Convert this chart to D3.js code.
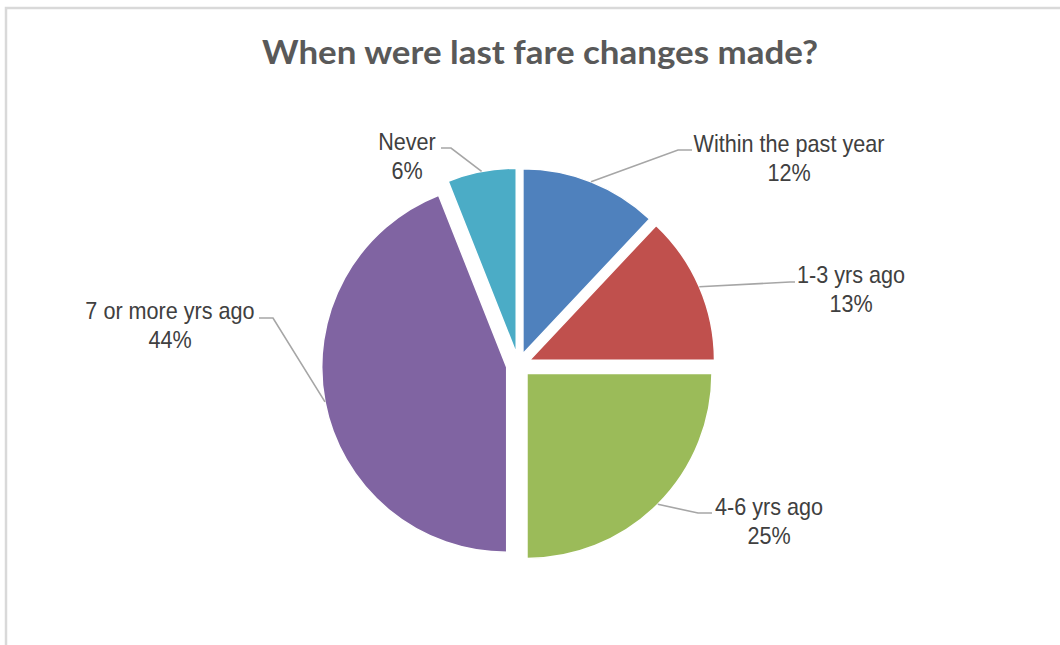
<!DOCTYPE html>
<html>
<head>
<meta charset="utf-8">
<script src="https://cdn.jsdelivr.net/npm/d3@7"></script>
<style>
  html, body { margin: 0; padding: 0; background: #fff; }
  svg { display: block; }
</style>
</head>
<body>
<svg id="chart" width="1060" height="645"></svg>
<script>
// Survey answers and their shares (percent)
const categories = ["Within the past year", "1-3 yrs ago", "4-6 yrs ago", "7 or more yrs ago", "Never"];
const shares = [12, 13, 25, 44, 6];
const sliceColors = ["#4f81bd", "#c0504d", "#9bbb59", "#8064a2", "#4bacc6"];
const chartTitle = "When were last fare changes made?";

// Label placement: text-block centre x, first baseline y, and the leader elbow / end points
const labelLayout = [
  { cx: 789, y: 152, elbow: [678, 150], end: [692, 150] },
  { cx: 851, y: 283, elbow: [790, 282], end: [795, 282] },
  { cx: 769, y: 515, elbow: [698, 513], end: [712, 513] },
  { cx: 170, y: 319, elbow: [273, 318], end: [259, 318] },
  { cx: 407, y: 150, elbow: [451, 148], end: [441, 148] }
];

const svg = d3.select("#chart");
const W = 1060, H = 645;

// chart-area frame (its right/bottom edges run off the page)
svg.append("rect")
  .attr("x", 6).attr("y", 8)
  .attr("width", W + 20).attr("height", H + 20)
  .attr("fill", "#fff")
  .attr("stroke", "#d9d9d9")
  .attr("stroke-width", 2.5);

// title
const title = svg.append("text")
  .attr("x", 540).attr("y", 64)
  .attr("text-anchor", "middle")
  .attr("font-family", "Lato, 'Open Sans', sans-serif")
  .attr("font-weight", "bold")
  .attr("font-size", 33)
  .attr("fill", "#595959")
  .text(chartTitle);
title.attr("textLength", 556).attr("lengthAdjust", "spacingAndGlyphs");

const cx = 518.5, cy = 365, R = 185, explode = 12;

const pie = d3.pie().sort(null).value(d => d.value);
const arc = d3.arc().innerRadius(0).outerRadius(R);

const data = categories.map((c, i) => ({ name: c, value: shares[i], color: sliceColors[i], layout: labelLayout[i] }));
const arcs = pie(data);

const g = svg.append("g").attr("transform", `translate(${cx},${cy})`);

function offsetOf(a) {
  const mid = (a.startAngle + a.endAngle) / 2;
  return [Math.sin(mid) * explode, -Math.cos(mid) * explode];
}

g.selectAll("path.slice")
  .data(arcs)
  .join("path")
  .attr("class", "slice")
  .attr("transform", d => { const o = offsetOf(d); return `translate(${o[0]},${o[1]})`; })
  .attr("d", arc)
  .attr("fill", d => d.data.color)
  .attr("stroke", "#fff")
  .attr("stroke-width", 1.5);

// leader lines: from the rim at the slice's mid-angle to the label
svg.selectAll("polyline.leader")
  .data(arcs)
  .join("polyline")
  .attr("class", "leader")
  .attr("fill", "none")
  .attr("stroke", "#a6a6a6")
  .attr("stroke-width", 1.6)
  .attr("points", d => {
    const mid = (d.startAngle + d.endAngle) / 2;
    const o = offsetOf(d);
    const px = cx + o[0] + Math.sin(mid) * R;
    const py = cy + o[1] - Math.cos(mid) * R;
    const L = d.data.layout;
    return [[px, py], L.elbow, L.end].map(p => p.join(",")).join(" ");
  });

// two-line data labels: category name and percentage
const labelFont = "'Liberation Sans', Arial, sans-serif";
const squeeze = 0.9;
const labels = svg.selectAll("g.label")
  .data(arcs)
  .join("g")
  .attr("class", "label")
  .attr("transform", d => `translate(${d.data.layout.cx},${d.data.layout.y}) scale(${squeeze},1)`);

labels.append("text")
  .attr("text-anchor", "middle")
  .attr("font-family", labelFont)
  .attr("font-size", 24)
  .attr("fill", "#404040")
  .text(d => d.data.name);

labels.append("text")
  .attr("y", 29)
  .attr("text-anchor", "middle")
  .attr("font-family", labelFont)
  .attr("font-size", 24)
  .attr("fill", "#404040")
  .text(d => d3.format(".0f")(d.data.value) + "%");
</script>
</body>
</html>
